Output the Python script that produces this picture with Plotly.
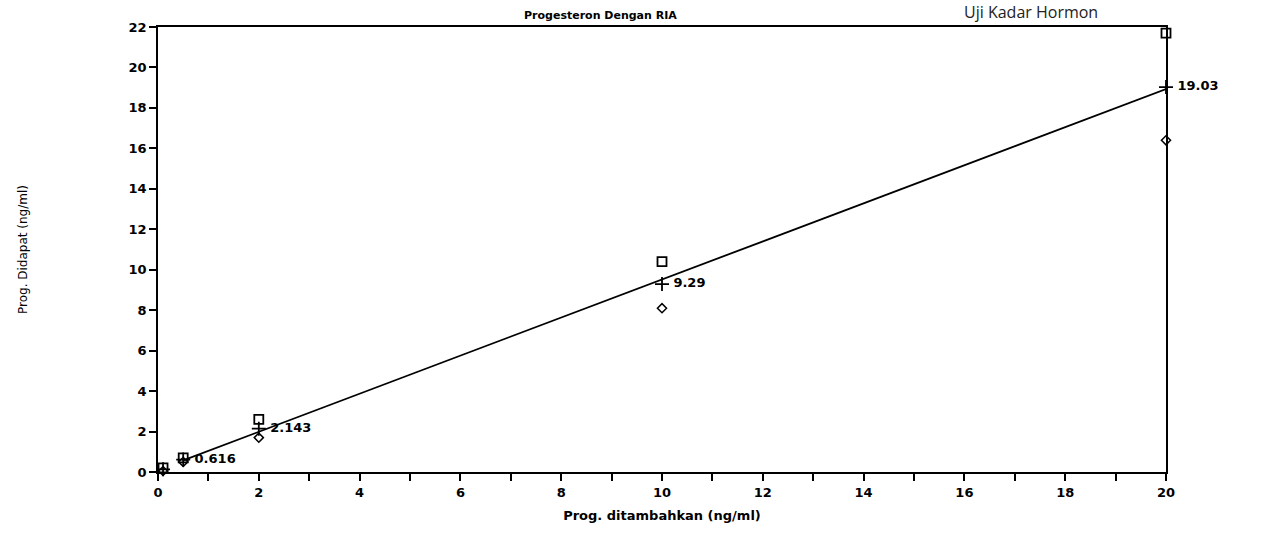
import numpy as np
import plotly.graph_objects as go

# Data
x_added = [0.1, 0.5, 2, 10, 20]
y_high = [0.2, 0.7, 2.6, 10.4, 21.7]
y_mean = [0.13, 0.616, 2.143, 9.29, 19.03]
y_low = [0.05, 0.5, 1.7, 8.1, 16.4]
mean_labels = ["", "0.616", "2.143", "9.29", "19.03"]

x_ticks = list(range(0, 21, 2))
y_ticks = list(range(0, 23, 2))

# regression line through the mean values
b, a = np.polyfit(x_added, y_mean, 1)
line_x = [x_added[1], x_added[-1]]
line_y = [a + b * v for v in line_x]

W, H = 1274, 538
L, R, T, B = 158, 108, 27, 66
plot_w = W - L - R
plot_h = H - T - B

font_plot = "DejaVu Sans"

fig = go.Figure()
fig.add_trace(go.Scatter(x=line_x, y=line_y, mode="lines",
                         line=dict(color="black", width=1.8), hoverinfo="skip",
                         showlegend=False, cliponaxis=False))
fig.add_trace(go.Scatter(x=x_added, y=y_high, mode="markers",
                         marker=dict(symbol="square-open", size=9, color="black",
                                     line=dict(width=1.8)),
                         showlegend=False, cliponaxis=False))
fig.add_trace(go.Scatter(x=x_added, y=y_low, mode="markers",
                         marker=dict(symbol="diamond-open", size=7, color="black",
                                     line=dict(width=1.5)),
                         showlegend=False, cliponaxis=False))
fig.add_trace(go.Scatter(x=x_added, y=y_mean, mode="markers+text",
                         marker=dict(symbol="cross-thin-open", size=10, color="black",
                                     line=dict(width=1.8, color="black")),
                         text=["&nbsp;<b>%s</b>" % t if t else "" for t in mean_labels],
                         textposition="middle right",
                         textfont=dict(family=font_plot, size=13, color="black"),
                         showlegend=False, cliponaxis=False))

axis_common = dict(showgrid=False, zeroline=False, showline=True, linecolor="black",
                   linewidth=1.8, mirror=True, ticks="outside", ticklen=7,
                   tickwidth=1.5, tickcolor="black",
                   tickfont=dict(family=font_plot, size=13, color="black", weight="bold"))

fig.update_layout(
    width=W, height=H,
    margin=dict(l=L, r=R, t=T, b=B),
    paper_bgcolor="white", plot_bgcolor="white",
    xaxis=dict(range=[0, 20], tickvals=x_ticks, ticktext=[str(v) for v in x_ticks],
               minor=dict(dtick=1, ticks="outside", ticklen=7, tickwidth=1.5,
                          tickcolor="black", tick0=0),
               title=dict(text="<b>Prog. ditambahkan (ng/ml)</b>", standoff=12,
                          font=dict(family=font_plot, size=13, color="black")),
               **axis_common),
    yaxis=dict(range=[0, 22], tickvals=y_ticks, ticktext=[str(v) for v in y_ticks],
               title=dict(text="Prog. Didapat (ng/ml)", standoff=98,
                          font=dict(family=font_plot, size=12, color="black")),
               **axis_common),
    annotations=[
        dict(text="<b>Progesteron Dengan RIA</b>", x=(600 - L) / plot_w, y=1.0,
             xref="paper", yref="paper",
             xanchor="center", yanchor="bottom", yshift=3, showarrow=False,
             font=dict(family=font_plot, size=11, color="black")),
        dict(text="Uji Kadar Hormon", x=(1100 - L) / plot_w, y=1.0,
             xref="paper", yref="paper", yshift=2,
             showarrow=False, font=dict(family="Open Sans", size=16, color="#222"),
             xanchor="right", yanchor="bottom"),
    ],
)

fig.write_html("out.html")
